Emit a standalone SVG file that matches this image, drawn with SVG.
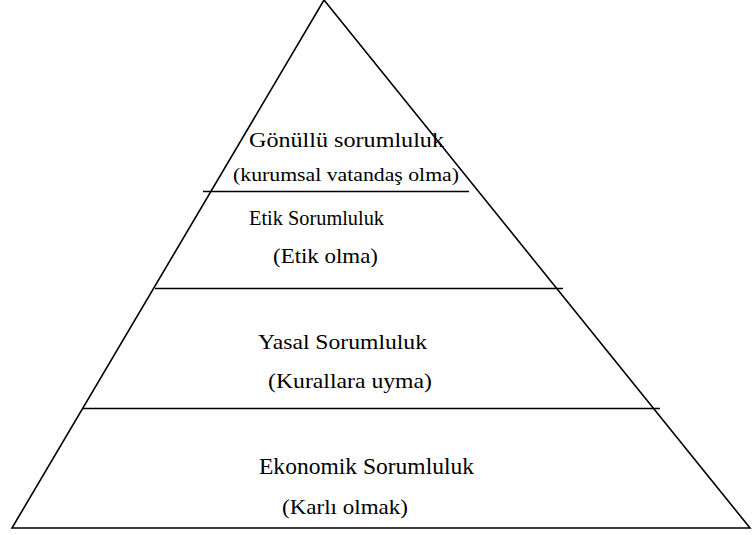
<svg xmlns="http://www.w3.org/2000/svg" width="752" height="535" viewBox="0 0 752 535">
<style>
.l{stroke:#000;stroke-width:1.6;fill:none}
text{font-family:"Liberation Serif","Times New Roman",serif;fill:#000}
</style>
<rect width="752" height="535" fill="#fff"/>
<g id="connectors">
<polygon class="l" points="324,0 12,528 750,528"/>
<line class="l" x1="203" y1="191.5" x2="469" y2="191.5"/>
<line class="l" x1="155" y1="288.5" x2="563" y2="288.5"/>
<line class="l" x1="82" y1="408.5" x2="660" y2="408.5"/>
</g>
<g id="gonullu">
<text x="249" y="147" font-size="22" textLength="195" lengthAdjust="spacingAndGlyphs">Gönüllü sorumluluk</text>
<text x="233" y="181" font-size="18.5" textLength="226" lengthAdjust="spacingAndGlyphs">(kurumsal vatandaş olma)</text>
</g>
<g id="etik">
<text x="249" y="225" font-size="21" textLength="135" lengthAdjust="spacingAndGlyphs">Etik Sorumluluk</text>
<text x="273" y="263" font-size="22" textLength="105" lengthAdjust="spacingAndGlyphs">(Etik olma)</text>
</g>
<g id="yasal">
<text x="258" y="349" font-size="22" textLength="169" lengthAdjust="spacingAndGlyphs">Yasal Sorumluluk</text>
<text x="268" y="388" font-size="22" textLength="164" lengthAdjust="spacingAndGlyphs">(Kurallara uyma)</text>
</g>
<g id="ekonomik">
<text x="259" y="474" font-size="23" textLength="215" lengthAdjust="spacingAndGlyphs">Ekonomik Sorumluluk</text>
<text x="282" y="514" font-size="22" textLength="126" lengthAdjust="spacingAndGlyphs">(Karlı olmak)</text>
</g>
</svg>
